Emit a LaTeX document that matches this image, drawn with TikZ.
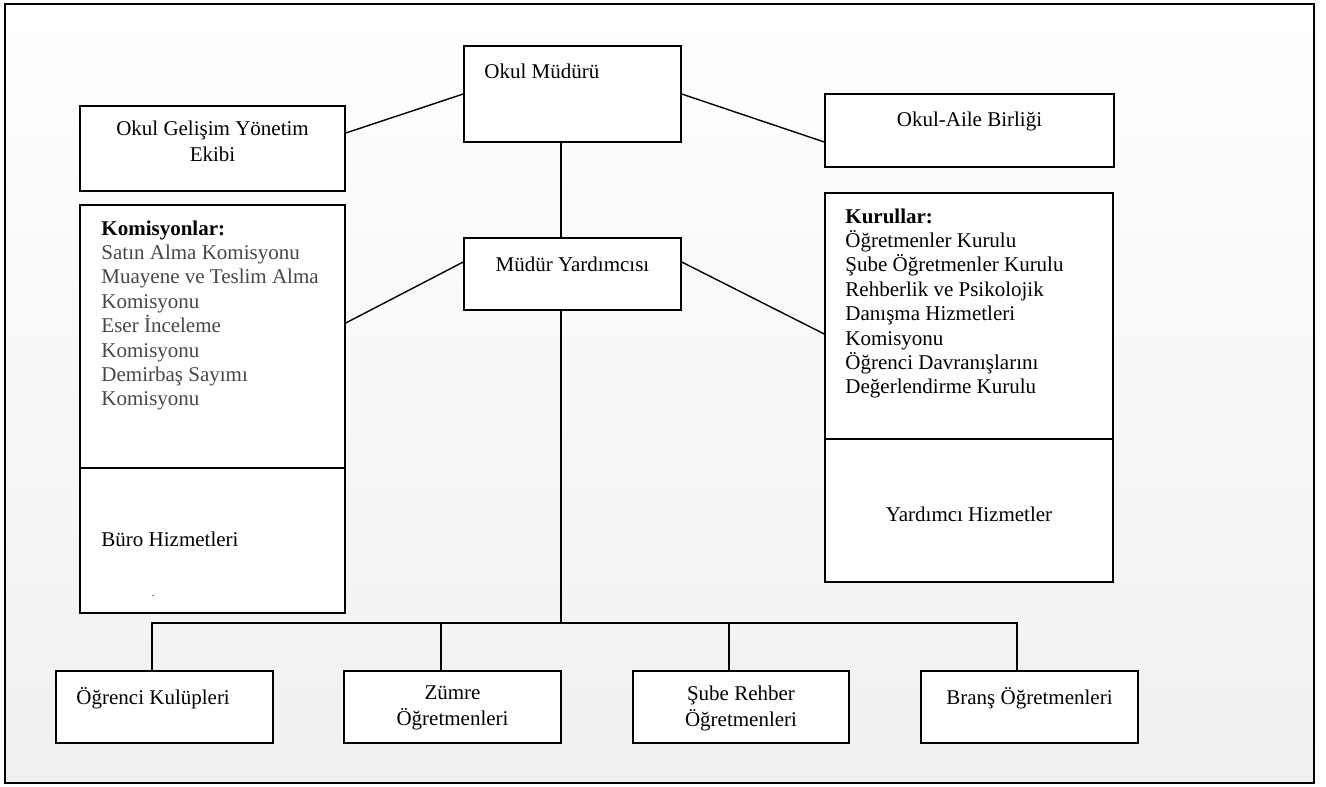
\documentclass[tikz,border=0pt]{standalone}
\usepackage{fontspec}
\setmainfont{Liberation Serif}
\usetikzlibrary{positioning}
\definecolor{komgri}{gray}{0.28}

\begin{document}
\begin{tikzpicture}[
  x=1pt, y=-1pt,
  kutu/.style={draw, fill=white, line width=1.5pt, inner sep=0pt},
  yazi/.style={inner sep=0pt, font=\fontsize{21}{24.4}\selectfont,
               execute at begin node=\strut},
  genis/.style={yazi, align=center, font=\fontsize{21}{26.7}\selectfont},
  bag/.style={line width=1.4pt}
]
\useasboundingbox (0,0) rectangle (1326,787);
% ===== frame with light gradient =====
\shadedraw[top color=white, bottom color=black!6, line width=2pt] (5,4) rectangle (1314,783);

% ===== top row =====
\node[kutu, minimum width=217pt, minimum height=96pt] (mudur) at (572.5,94) {};
\node[yazi, below right=16pt and 21pt of mudur.north west] (mudur-y) {Okul Müdürü};
\node[kutu, minimum width=265pt, minimum height=85pt] (ogye) at (212.5,148.5) {};
\node[genis, below=15pt of ogye.north] (ogye-y) {Okul Gelişim Yönetim\\Ekibi};
\node[kutu, minimum width=289pt, minimum height=73pt] (oab) at (969.5,130.5) {};
\node[yazi, below=16pt of oab.north] (oab-y) {Okul-Aile Birliği};

% ===== middle row =====
\node[kutu, minimum width=217pt, minimum height=72pt] (my) at (572.5,274) {};
\node[yazi, below=17pt of my.north] (my-y) {Müdür Yardımcısı};
\node[kutu, minimum width=265pt, minimum height=263pt] (kom) at (212.5,336.5) {};
\node[yazi, align=left, below right=16pt and 22pt of kom.north west] (kom-y)
  {\textbf{Komisyonlar:}\\
   \textcolor{komgri}{Satın Alma Komisyonu}\\
   \textcolor{komgri}{Muayene ve Teslim Alma}\\
   \textcolor{komgri}{Komisyonu}\\
   \textcolor{komgri}{Eser İnceleme}\\
   \textcolor{komgri}{Komisyonu}\\
   \textcolor{komgri}{Demirbaş Sayımı}\\
   \textcolor{komgri}{Komisyonu}};
\node[kutu, minimum width=265pt, minimum height=145pt] (buro) at (212.5,540.5) {};
\node[yazi, below right=62pt and 22pt of buro.north west] (buro-y) {Büro Hizmetleri};
\node[inner sep=0pt, font=\fontsize{10}{12}\selectfont] (nokta) at (153,596) {.};
\node[kutu, minimum width=288pt, minimum height=246pt] (kur) at (969,316) {};
\node[yazi, align=left, below right=16pt and 21pt of kur.north west] (kur-y)
  {\textbf{Kurullar:}\\
   Öğretmenler Kurulu\\
   Şube Öğretmenler Kurulu\\
   Rehberlik ve Psikolojik\\
   Danışma Hizmetleri\\
   Komisyonu\\
   Öğrenci Davranışlarını\\
   Değerlendirme Kurulu};
\node[kutu, minimum width=288pt, minimum height=143pt] (yh) at (969,510.5) {};
\node[yazi, below=66pt of yh.north] (yh-y) {Yardımcı Hizmetler};

% ===== bottom row =====
\node[kutu, minimum width=217pt, minimum height=72pt] (b1) at (164.5,707) {};
\node[yazi, below right=17pt and 21pt of b1.north west] (b1-y) {Öğrenci Kulüpleri};
\node[kutu, minimum width=217pt, minimum height=72pt] (b2) at (452.5,707) {};
\node[genis, below=15pt of b2.north] (b2-y) {Zümre\\Öğretmenleri};
\node[kutu, minimum width=216pt, minimum height=72pt] (b3) at (741,707) {};
\node[genis, below=15pt of b3.north] (b3-y) {Şube Rehber\\Öğretmenleri};
\node[kutu, minimum width=217pt, minimum height=72pt] (b4) at (1029.5,707) {};
\node[yazi, below=17pt of b4.north] (b4-y) {Branş Öğretmenleri};

% ===== connectors =====
\coordinate (omalt) at ([xshift=-11.5pt]mudur.south);
\coordinate (bus) at (561,623);
\draw[bag] (mudur.west) -- ([yshift=15.5pt]ogye.east);
\draw[bag] (mudur.east) -- ([yshift=-11.5pt]oab.west);
\draw[bag] (omalt) -- (omalt |- my.north);
\draw[bag] ([yshift=12pt]my.west) -- ([yshift=13.5pt]kom.east);
\draw[bag] ([yshift=12pt]my.east) -- ([yshift=-18pt]kur.west);
\draw[bag] (my.south -| bus) -- (bus);
\draw[bag] ([xshift=-12.5pt]b1.north) |- (bus) -| ([xshift=-12.5pt]b4.north);
\draw[bag] ([xshift=-11.5pt]b2.north) -- ([xshift=-11.5pt]b2.north |- bus);
\draw[bag] ([xshift=-12pt]b3.north) -- ([xshift=-12pt]b3.north |- bus);
\end{tikzpicture}
\end{document}
